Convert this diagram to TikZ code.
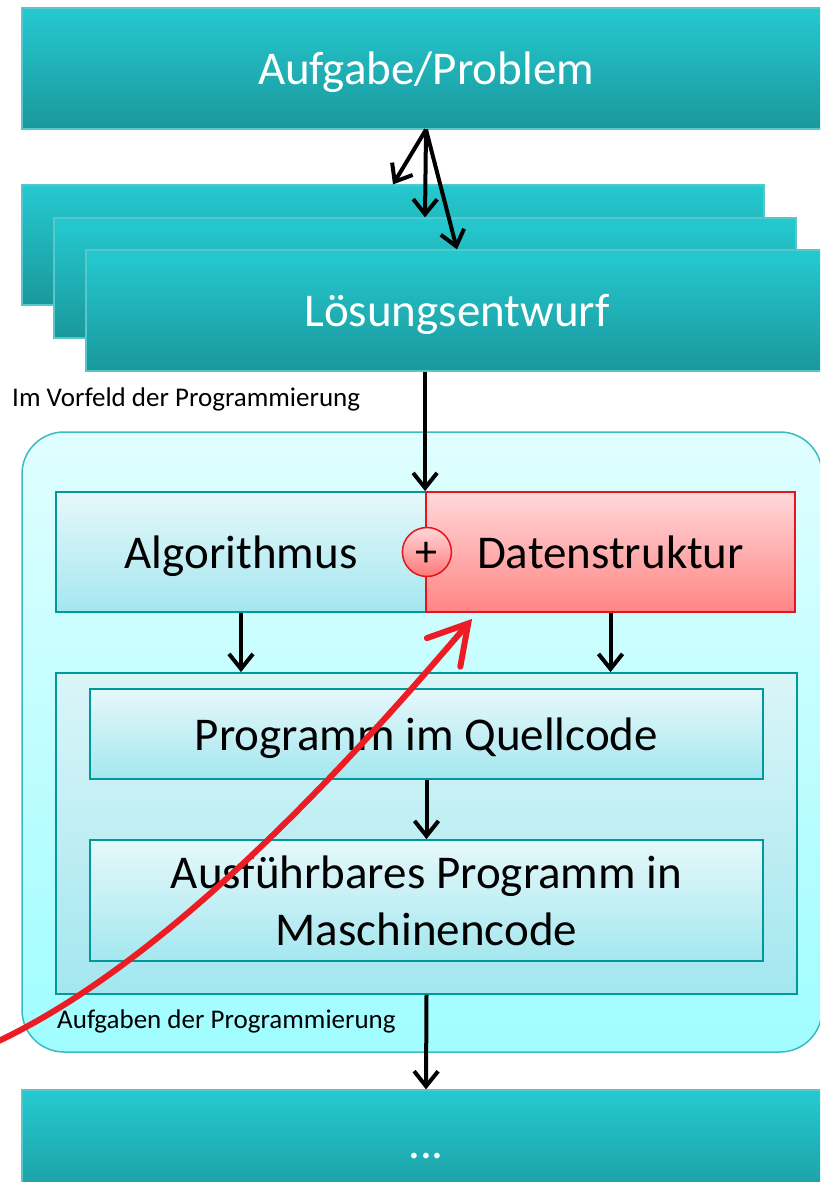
\documentclass[tikz,border=0pt]{standalone}
\usepackage{fontspec}
\setmainfont{Carlito}
\usetikzlibrary{arrows.meta,shapes.geometric}
\definecolor{tealtop}{HTML}{25C9D0}
\definecolor{tealbot}{HTML}{1A989C}
\definecolor{tealedge}{HTML}{55C8CB}
\definecolor{outertop}{HTML}{E0FEFF}
\definecolor{outerbot}{HTML}{A0FDFF}
\definecolor{outeredge}{HTML}{3DBABD}
\definecolor{boxtop}{HTML}{E6F8FA}
\definecolor{boxbot}{HTML}{A4E7EF}
\definecolor{innertop}{HTML}{DAF5F8}
\definecolor{innerbot}{HTML}{A4E7EF}
\definecolor{boxedge}{HTML}{009999}
\definecolor{redtop}{HTML}{FFD8DA}
\definecolor{redbot}{HTML}{FF8585}
\definecolor{rededge}{HTML}{E8141C}
\definecolor{arrred}{HTML}{ED1C24}
\begin{document}
\begin{tikzpicture}[x=1pt,y=-1pt,
  bigfont/.style={font=\fontsize{47}{57}\selectfont},
  oneline/.style={text depth=0pt},
  tealbox/.style={rectangle, draw=tealedge, line width=1.2pt, top color=tealtop, bottom color=tealbot, text=white, bigfont, inner sep=0pt},
  lightbox/.style={rectangle, draw=boxedge, line width=1.8pt, top color=boxtop, bottom color=boxbot, text=black, bigfont, inner sep=0pt, align=center},
  innerbox/.style={rectangle, draw=boxedge, line width=1.8pt, top color=innertop, bottom color=innerbot, inner sep=0pt},
  redbox/.style={rectangle, draw=rededge, line width=1.8pt, top color=redtop, bottom color=redbot, text=black, bigfont, inner sep=0pt},
  outerbox/.style={rectangle, rounded corners=42pt, draw=outeredge, line width=1.5pt, top color=outertop, bottom color=outerbot, inner sep=0pt},
  plusnode/.style={circle, draw=rededge, line width=1.5pt, top color=redtop, bottom color=redbot!90!red, minimum size=49pt, inner sep=0pt, font=\fontsize{44}{46}\selectfont, text height=29pt, text depth=0pt},
  lbl/.style={font=\fontsize{27}{31}\selectfont, inner sep=0pt, text=black},
  arr/.style={line width=4pt, draw=black, -{Straight Barb[length=15pt,width=24pt]}},
  redarr/.style={line width=6pt, draw=arrred, line cap=round, -{Straight Barb[length=38pt,width=44pt,line cap=round]}}
]
\clip (0,0) rectangle (820,1182);

% top problem box
\node[tealbox, oneline, minimum width=808pt, minimum height=121pt] (prob) at (426,68.5) {Aufgabe/Problem};

% stacked solution boxes
\node[tealbox, minimum width=742pt, minimum height=120pt] (losA) at (393,245) {};
\node[tealbox, minimum width=742pt, minimum height=120pt] (losB) at (425,278) {};
\node[tealbox, oneline, minimum width=742pt, minimum height=121pt] (losC) at (457,310.5) {L\"osungsentwurf};

\draw[arr] (prob.south) -- (losA.north);
\draw[arr] (prob.south) -- (losB.north);
\draw[arr] (prob.south) -- (losC.north);

\node[lbl, anchor=base west] (vorfeld) at (12,406) {Im Vorfeld der Programmierung};

% outer rounded area
\node[outerbox, minimum width=800pt, minimum height=620pt] (outer) at (422,742) {};

% algorithm + data structure
\node[lightbox, oneline, minimum width=370pt, minimum height=120pt] (algo) at (241,552) {Algorithmus};
\node[redbox, oneline, minimum width=369pt, minimum height=120pt] (daten) at (610.5,552) {Datenstruktur};
\node[plusnode] (plus) at (algo.east) {+};

\draw[arr] (losC.south -| daten.north west) -- (daten.north west);

% inner programming box
\node[innerbox, minimum width=741pt, minimum height=321pt] (inner) at (426.5,833.5) {};
\node[lightbox, oneline, minimum width=673pt, minimum height=90pt] (quell) at (426.5,734) {Programm im Quellcode};
\node[lightbox, minimum width=673pt, minimum height=121pt] (masch) at (426.5,900.5) {Ausf\"uhrbares Programm in\\Maschinencode};

\draw[arr] (algo.south) -- (algo.south |- inner.north);
\draw[arr] (daten.south) -- (daten.south |- inner.north);
\draw[arr] (quell.south) -- (masch.north);

\node[lbl, anchor=base west] (aufg) at (57,1028) {Aufgaben der Programmierung};

% bottom box
\node[tealbox, minimum width=808pt, minimum height=121pt] (bottom) at (426,1150.5) {};
\node[text=white, bigfont, inner sep=0pt, anchor=base] (dots) at (426,1158) {...};

\draw[arr] (inner.south) -- (bottom.north);

% red arrow
\coordinate (rs) at (-10,1045);
\coordinate (re) at ([shift={(47,6)}]daten.south west);
\draw[redarr] (rs) .. controls (155,970) and (328,788) .. (re);
\end{tikzpicture}
\end{document}
